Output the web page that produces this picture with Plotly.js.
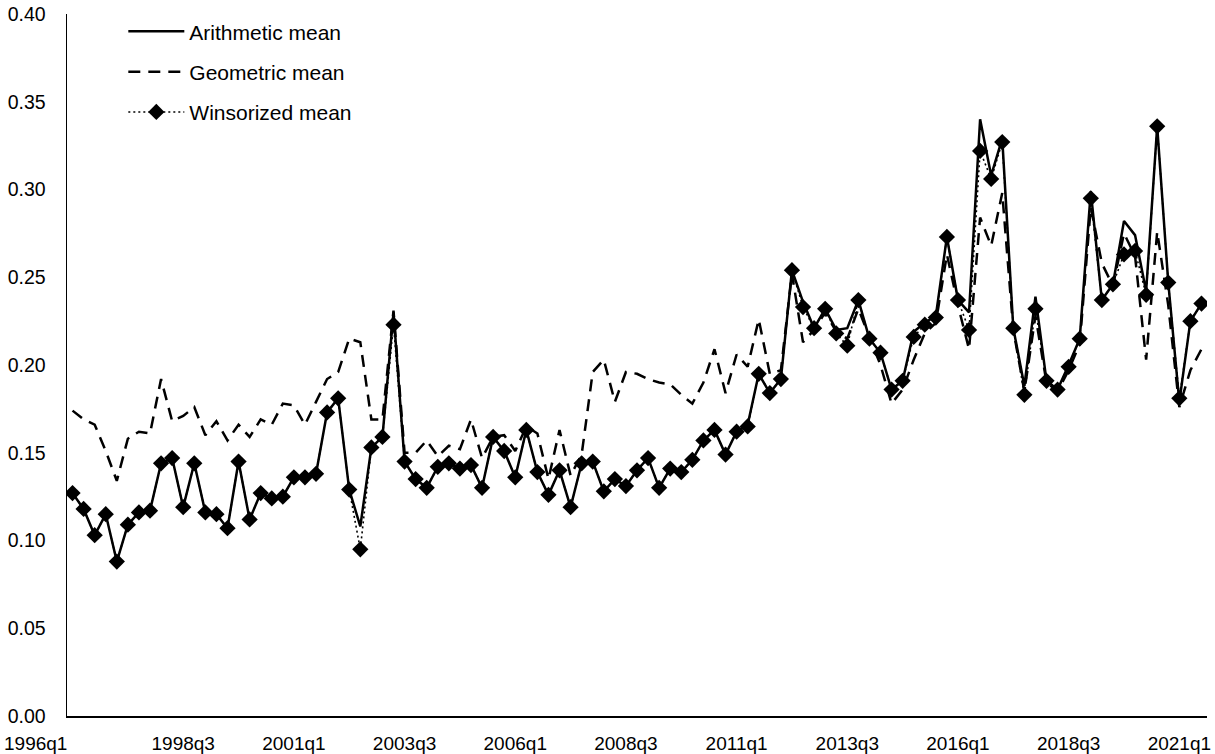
<!DOCTYPE html>
<html>
<head>
<meta charset="utf-8">
<script src="https://cdn.plot.ly/plotly-3.0.1.min.js"></script>
<style>
  html, body { margin: 0; padding: 0; background: #ffffff; }
  #chart { width: 1215px; height: 754px; }
</style>
</head>
<body>
<div id="chart"></div>
<script>
// Quarter categories 1996q1 .. 2021q3
var startYear = 1996;
var nQuarters = 103;
var quarters = [];
for (var k = 0; k < nQuarters; k++) {
  quarters.push((startYear + Math.floor(k / 4)) + 'q' + (k % 4 + 1));
}

var tickLabels = ['1996q1', '1998q3', '2001q1', '2003q3', '2006q1', '2008q3',
                  '2011q1', '2013q3', '2016q1', '2018q3', '2021q1'];

var seriesNames = ['Arithmetic mean', 'Geometric mean', 'Winsorized mean'];

var arithmeticMean = [
  0.127, 0.118, 0.103, 0.115, 0.088, 0.109, 0.116, 0.117, 0.144, 0.147,
  0.119, 0.144, 0.116, 0.115, 0.107, 0.145, 0.112, 0.127, 0.124, 0.125,
  0.136, 0.136, 0.138, 0.173, 0.181, 0.129, 0.108, 0.153, 0.159, 0.230,
  0.145, 0.135, 0.130, 0.142, 0.144, 0.141, 0.143, 0.130, 0.159, 0.151,
  0.136, 0.163, 0.139, 0.126, 0.140, 0.119, 0.144, 0.145, 0.128, 0.135,
  0.131, 0.140, 0.147, 0.130, 0.141, 0.139, 0.146, 0.157, 0.163, 0.149,
  0.162, 0.166, 0.195, 0.184, 0.192, 0.254, 0.236, 0.221, 0.232, 0.220,
  0.221, 0.237, 0.215, 0.207, 0.186, 0.191, 0.219, 0.224, 0.228, 0.273,
  0.237, 0.230, 0.340, 0.308, 0.329, 0.221, 0.188, 0.239, 0.191, 0.186,
  0.200, 0.215, 0.299, 0.237, 0.246, 0.282, 0.274, 0.242, 0.336, 0.247,
  0.179, 0.225, 0.235
];

var geometricMean = [
  0.174, 0.169, 0.166, 0.151, 0.134, 0.158, 0.162, 0.161, 0.192, 0.168,
  0.171, 0.176, 0.160, 0.168, 0.157, 0.166, 0.159, 0.169, 0.166, 0.178,
  0.177, 0.166, 0.179, 0.192, 0.196, 0.215, 0.213, 0.169, 0.169, 0.231,
  0.150, 0.150, 0.157, 0.148, 0.154, 0.152, 0.169, 0.147, 0.159, 0.160,
  0.151, 0.165, 0.161, 0.135, 0.163, 0.137, 0.149, 0.196, 0.203, 0.179,
  0.196, 0.195, 0.192, 0.190, 0.189, 0.183, 0.178, 0.190, 0.209, 0.184,
  0.206, 0.199, 0.226, 0.195, 0.197, 0.252, 0.213, 0.220, 0.230, 0.219,
  0.215, 0.232, 0.216, 0.200, 0.178, 0.186, 0.203, 0.218, 0.224, 0.263,
  0.234, 0.209, 0.284, 0.268, 0.298, 0.220, 0.185, 0.228, 0.190, 0.185,
  0.197, 0.212, 0.290, 0.258, 0.245, 0.275, 0.262, 0.203, 0.276, 0.234,
  0.176, 0.197, 0.209
];

var winsorizedMean = [
  0.127, 0.118, 0.103, 0.115, 0.088, 0.109, 0.116, 0.117, 0.144, 0.147,
  0.119, 0.144, 0.116, 0.115, 0.107, 0.145, 0.112, 0.127, 0.124, 0.125,
  0.136, 0.136, 0.138, 0.173, 0.181, 0.129, 0.095, 0.153, 0.159, 0.223,
  0.145, 0.135, 0.130, 0.142, 0.144, 0.141, 0.143, 0.130, 0.159, 0.151,
  0.136, 0.163, 0.139, 0.126, 0.140, 0.119, 0.144, 0.145, 0.128, 0.135,
  0.131, 0.140, 0.147, 0.130, 0.141, 0.139, 0.146, 0.157, 0.163, 0.149,
  0.162, 0.165, 0.195, 0.184, 0.192, 0.254, 0.233, 0.221, 0.232, 0.218,
  0.211, 0.237, 0.215, 0.207, 0.186, 0.191, 0.216, 0.223, 0.227, 0.273,
  0.237, 0.220, 0.322, 0.306, 0.327, 0.221, 0.183, 0.232, 0.191, 0.186,
  0.199, 0.215, 0.295, 0.237, 0.246, 0.263, 0.265, 0.240, 0.336, 0.247,
  0.181, 0.225, 0.235
];

var FONT = 'Liberation Sans, Arial, Helvetica, sans-serif';

var traces = [
  {
    x: quarters, y: arithmeticMean, name: seriesNames[0], type: 'scatter', mode: 'lines',
    line: { color: '#000000', width: 2.5 },
    legendgroup: 'a'
  },
  {
    x: quarters, y: geometricMean, name: seriesNames[1], type: 'scatter', mode: 'lines',
    line: { color: '#000000', width: 2.5, dash: '12px,8px' },
    legendgroup: 'g'
  },
  {
    x: quarters, y: winsorizedMean, name: seriesNames[2], type: 'scatter', mode: 'lines+markers',
    line: { color: '#000000', width: 1.6, dash: '2px,3px' },
    marker: { symbol: 'diamond', size: 12.5, color: '#000000' },
    legendgroup: 'w'
  }
];

// first category label sits flush with the left edge in the original
var shownTickText = tickLabels.map(function (t, i) { return i === 0 ? '' : t; });

var layout = {
  width: 1215,
  height: 754,
  margin: { l: 67, r: 8, t: 14, b: 38 },
  paper_bgcolor: '#ffffff',
  plot_bgcolor: '#ffffff',
  font: { family: FONT, size: 19, color: '#000000' },
  showlegend: true,
  legend: {
    x: 0.0494, y: 1.004, xanchor: 'left', yanchor: 'top',
    bgcolor: 'rgba(0,0,0,0)',
    font: { family: FONT, size: 21, color: '#000000' },
    traceorder: 'grouped',
    tracegroupgap: 10,
    itemwidth: 56
  },
  xaxis: {
    type: 'category',
    range: [-0.5, nQuarters - 0.5],
    tickmode: 'array',
    tickvals: tickLabels,
    ticktext: shownTickText,
    showline: true, linecolor: '#000000', linewidth: 1.5,
    ticks: '', showgrid: false, zeroline: false,
    tickfont: { family: FONT, size: 19, color: '#000000' },
    ticklabelstandoff: 10
  },
  yaxis: {
    range: [0, 0.4],
    dtick: 0.05,
    tickformat: '.2f',
    showline: true, linecolor: '#000000', linewidth: 1.5,
    ticks: '', showgrid: false, zeroline: false,
    tickfont: { family: FONT, size: 19.5, color: '#000000' },
    ticklabelstandoff: 16
  },
  annotations: [{
    xref: 'paper', yref: 'paper', x: 0, y: 0,
    xanchor: 'right', yanchor: 'top', xshift: 2, yshift: -15,
    text: tickLabels[0], showarrow: false,
    font: { family: FONT, size: 19, color: '#000000' }
  }]
};

Plotly.newPlot('chart', traces, layout, { displayModeBar: false, staticPlot: true });
</script>
</body>
</html>
